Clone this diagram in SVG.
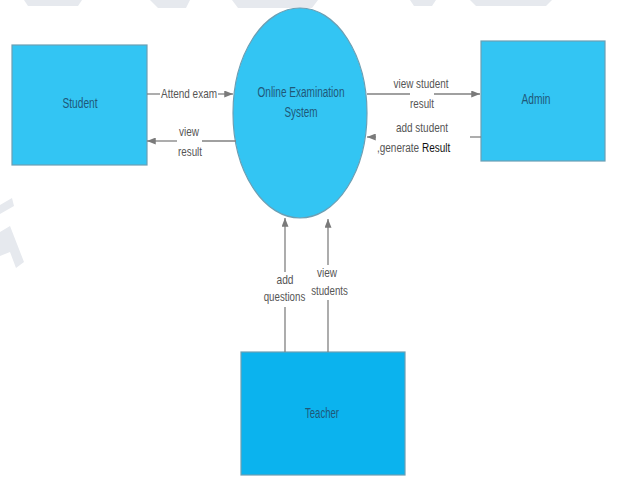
<svg xmlns="http://www.w3.org/2000/svg" width="618" height="477" viewBox="0 0 618 477">
<style>
.node{fill:#33c5f3;stroke:#6b9fb4;stroke-width:1.2}
.teacher{fill:#0bb3ee;stroke:#6b9fb4;stroke-width:1.2}
.nt{font-family:"Liberation Sans",Arial,sans-serif;font-size:14px;fill:#1f5878;text-anchor:middle}
.lb{font-family:"Liberation Sans",Arial,sans-serif;font-size:13.5px;fill:#555;text-anchor:middle}
.ln{stroke:#808080;stroke-width:1.3;fill:none}
.wm{fill:#e6e9ee}
</style>
<defs>
<marker id="ah" viewBox="0 0 10 8" refX="10" refY="4" markerWidth="9" markerHeight="7" markerUnits="userSpaceOnUse" orient="auto">
<path d="M0,0 L10,4 L0,8 Z" fill="#7a7a7a"/>
</marker>
</defs>
<rect width="618" height="477" fill="#ffffff"/>
<g id="watermark">
<polygon class="wm" points="24,0 82,0 78,6 28,6"/>
<polygon class="wm" points="150,0 190,0 186,8 158,8"/>
<polygon class="wm" points="232,0 318,0 312,8 238,8"/>
<polygon class="wm" points="410,0 436,0 432,6 414,6"/>
<polygon class="wm" points="470,0 552,0 546,6 476,6"/>
<polygon class="wm" points="0,205 12,198 14,206 0,214"/>
<polygon class="wm" points="0,232 10,226 24,262 16,268 10,252 0,256"/>
</g>
<g id="student">
<rect class="node" x="12" y="45" width="135" height="120"/>
<text class="nt" x="80" y="108" textLength="35" lengthAdjust="spacingAndGlyphs">Student</text>
</g>
<g id="system">
<ellipse class="node" cx="300" cy="113" rx="67" ry="105"/>
<text class="nt" x="301" y="97" textLength="87" lengthAdjust="spacingAndGlyphs">Online Examination</text>
<text class="nt" x="301" y="117" textLength="33" lengthAdjust="spacingAndGlyphs">System</text>
</g>
<g id="admin">
<rect class="node" x="481" y="41" width="124" height="120"/>
<text class="nt" x="536" y="104" textLength="29" lengthAdjust="spacingAndGlyphs">Admin</text>
</g>
<g id="teacher">
<rect class="teacher" x="241" y="352" width="164" height="123"/>
<text class="nt" x="322" y="418" textLength="34" lengthAdjust="spacingAndGlyphs">Teacher</text>
</g>
<g id="connectors">
<line class="ln" x1="147" y1="94" x2="160" y2="94"/>
<line class="ln" x1="218" y1="94" x2="233" y2="94" marker-end="url(#ah)"/>
<text class="lb" x="189" y="98" textLength="56" lengthAdjust="spacingAndGlyphs">Attend exam</text>

<line class="ln" x1="236" y1="141" x2="202" y2="141"/>
<line class="ln" x1="177" y1="141" x2="147" y2="141" marker-end="url(#ah)"/>
<text class="lb" x="189" y="136" textLength="20" lengthAdjust="spacingAndGlyphs">view</text>
<text class="lb" x="190" y="156" textLength="24" lengthAdjust="spacingAndGlyphs">result</text>

<line class="ln" x1="367" y1="94" x2="410" y2="94"/>
<line class="ln" x1="434" y1="94" x2="480" y2="94" marker-end="url(#ah)"/>
<text class="lb" x="421" y="88" textLength="55" lengthAdjust="spacingAndGlyphs">view student</text>
<text class="lb" x="422" y="108" textLength="24" lengthAdjust="spacingAndGlyphs">result</text>

<line class="ln" x1="481" y1="137" x2="470" y2="137"/>
<line class="ln" x1="376" y1="137" x2="367" y2="137" marker-end="url(#ah)"/>
<text class="lb" x="422" y="132" textLength="52" lengthAdjust="spacingAndGlyphs">add student</text>
<text class="lb" transform="translate(377,152) scale(0.74,1)" x="0" y="0" style="text-anchor:start">,generate <tspan fill="#111">Result</tspan></text>

<line class="ln" x1="285" y1="352" x2="285" y2="307"/>
<line class="ln" x1="285" y1="272" x2="285" y2="218" marker-end="url(#ah)"/>
<text class="lb" x="285" y="284" textLength="17" lengthAdjust="spacingAndGlyphs">add</text>
<text class="lb" transform="translate(284.5,301) scale(0.72,1)" x="0" y="0">questions</text>

<line class="ln" x1="328" y1="352" x2="328" y2="300"/>
<line class="ln" x1="328" y1="265" x2="328" y2="219" marker-end="url(#ah)"/>
<text class="lb" x="327" y="277" textLength="20" lengthAdjust="spacingAndGlyphs">view</text>
<text class="lb" transform="translate(329.5,295) scale(0.72,1)" x="0" y="0">students</text>
</g>
</svg>
